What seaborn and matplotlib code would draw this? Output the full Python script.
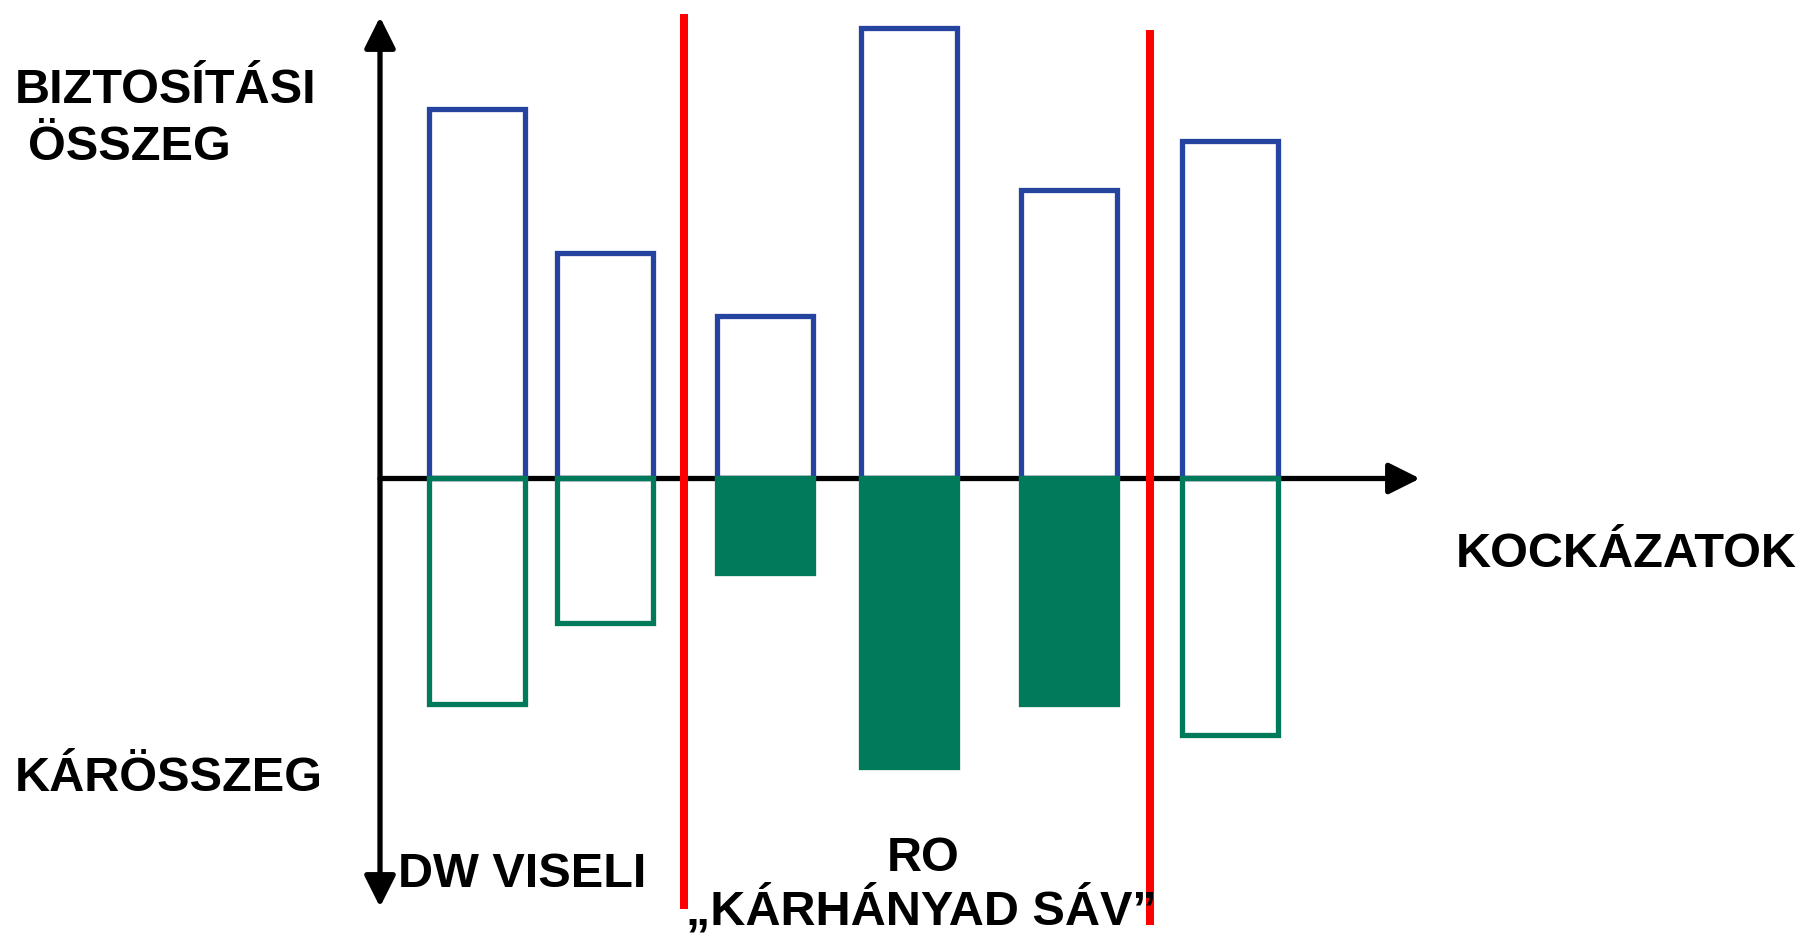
import matplotlib
matplotlib.use("Agg")
import matplotlib.pyplot as plt
import pandas as pd
import seaborn as sns

# --- data -------------------------------------------------------------
risks = ["K1", "K2", "K3", "K4", "K5", "K6"]
sum_insured = [82, 50, 36, 100, 64, 75]      # biztosítási összeg
claim_amount = [50, 32, 21, 64, 50, 57]      # kárösszeg
in_ro_band = [False, False, True, True, True, False]

# --- layout -----------------------------------------------------------
W, H = 1804, 935
risk_x = [477, 605, 765, 909, 1069, 1229.5]   # horizontal slot of each risk
zero_px = 478.5                               # pixel row of the risk axis
px_per_unit = 4.5

BLUE = "#2444A0"
GREEN = "#007A5B"
RED = "#FF0000"
LW = 3.8

sns.set_theme(style="white")
plt.rcParams["font.family"] = ["Liberation Sans", "DejaVu Sans"]


def vy(y_px):
    """Pixel row -> value units."""
    return (zero_px - y_px) / px_per_unit


fig = plt.figure(figsize=(W / 100, H / 100), dpi=100)
fig.patch.set_facecolor("white")
ax = fig.add_axes([0, 0, 1, 1])

df = pd.DataFrame({
    "risk": risks,
    "x": risk_x,
    "insured": sum_insured,
    "claim": [-c for c in claim_amount],
    "ro": in_ro_band,
})

# insured sums above the axis (outlined blue)
sns.barplot(data=df, x="x", y="insured", native_scale=True, width=0.75,
            color=BLUE, fill=False, errorbar=None, ax=ax, zorder=3)
n_first = len(ax.patches)
for patch in ax.patches[:n_first]:
    patch.set_edgecolor(BLUE)
    patch.set_linewidth(LW)
    patch.set_joinstyle("miter")

# claims below the axis (green; solid inside the RO band)
sns.barplot(data=df, x="x", y="claim", native_scale=True, width=0.75,
            color=GREEN, fill=False, errorbar=None, ax=ax, zorder=4)
for patch, ro in zip(ax.patches[n_first:], df["ro"]):
    patch.set_edgecolor(GREEN)
    patch.set_linewidth(LW)
    patch.set_joinstyle("miter")
    if ro:
        patch.set_fill(True)
        patch.set_facecolor(GREEN)

ax.set_xlim(0, W)
ax.set_ylim(vy(H), vy(0))
ax.set_axis_off()

# axes drawn as arrows
head = "head_length=19,head_width=9.5"
ax.annotate("", xy=(1420, 0), xytext=(380, 0),
            arrowprops=dict(arrowstyle="-|>," + head, lw=LW, color="black",
                            shrinkA=0, shrinkB=0, mutation_scale=1),
            zorder=2)
ax.annotate("", xy=(380, vy(17)), xytext=(380, vy(907)),
            arrowprops=dict(arrowstyle="<|-|>," + head, lw=LW, color="black",
                            shrinkA=0, shrinkB=0, mutation_scale=1),
            zorder=2)

# band separators
ax.vlines([684, 1150], [vy(909), vy(925)], [vy(14), vy(30)],
          colors=RED, linewidth=5.8, zorder=5)

# labels
FS = 35
def label(x_px, y_px, s, ha="left"):
    fig.text(x_px / W, 1 - y_px / H, s, ha=ha, va="baseline",
             fontsize=FS, fontweight="bold", color="black")

label(14.5, 103.3, "BIZTOSÍTÁSI")
label(28.5, 160.3, "ÖSSZEG")
label(14.5, 790.7, "KÁRÖSSZEG")
label(398, 886.7, "DW VISELI")
label(923.4, 870.7, "RO", ha="center")
label(686.5, 925, "„KÁRHÁNYAD SÁV”")
label(1455.5, 566.7, "KOCKÁZATOK")

fig.savefig("out.png", dpi=100, facecolor="white")
